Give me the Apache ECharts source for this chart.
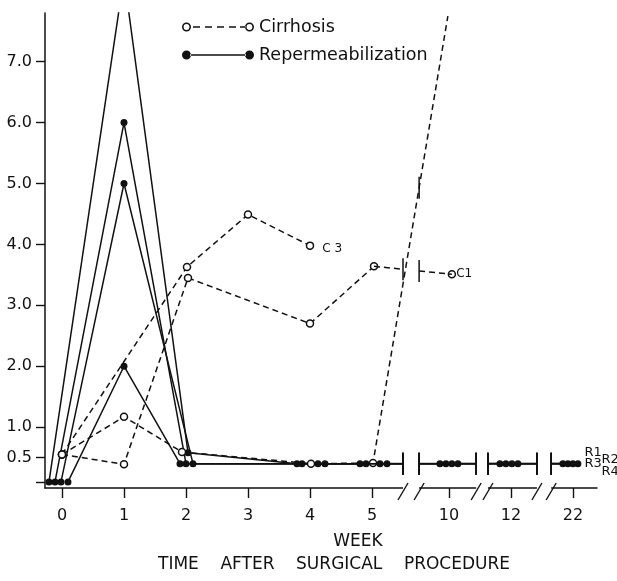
<!DOCTYPE html>
<html>
<head>
<meta charset="utf-8">
<script src="https://cdn.jsdelivr.net/npm/echarts@6/dist/echarts.min.js"></script>
<style>
  html, body { margin: 0; padding: 0; background: #fff; }
  #chart { width: 617px; height: 581px; }
</style>
</head>
<body>
<div id="chart"></div>
<script>
// ---------------- DATA ----------------
const weeks = [0, 1, 2, 3, 4, 5, 10, 12, 22];
const weekLabels = ['0', '1', '2', '3', '4', '5', '10', '12', '22'];

// Cirrhosis (open circles, dashed)
const c1Values = [0.55, 0.39, 3.45, null, 2.70, 3.64, 3.51, null, null];
const c2Values = [0.55, 1.17, 0.59, null, 0.40, 0.41, 7.75, null, null];
const c3Values = [0.55, null, 3.63, 4.49, 3.98, null, null, null, null];

// Repermeabilization (filled dots, solid)
const r1Values = [0.10, 8.40, 0.58, null, 0.40, 0.40, 0.40, 0.40, 0.40];
const r2Values = [0.10, 6.00, 0.40, null, 0.40, 0.40, 0.40, 0.40, 0.40];
const r3Values = [0.10, 5.00, 0.40, null, 0.40, 0.40, 0.40, 0.40, 0.40];
const r4Values = [0.10, 2.00, 0.40, null, 0.40, 0.40, 0.40, 0.40, 0.40];

const yTickValues = [0.1, 0.5, 1, 2, 3, 4, 5, 6, 7];
const yLabelValues = [0.5, 1, 2, 3, 4, 5, 6, 7];

// ---------------- LAYOUT (broken time axis) ----------------
const SLOT = [0, 1, 2, 3, 4, 5, 6.24, 7.24, 8.24];      // axis position of each week
const BREAKS = [[5.5, 5.76], [6.68, 6.87], [7.66, 7.89]];
const PX_PER_SLOT = 62;
const XMIN = -0.274, XMAX = 8.629;
// horizontal offsets (px) used in the original to separate overlapping symbols
const jitterPx = {
  C1: [0, 0, 2, 0, 0, 2, 3, 0, 0],
  C2: [0, 0, -4, 0, 1, 1, -1, 0, 0],
  C3: [0, 0, 1, 0, 0, 0, 0, 0, 0],
  R1: [-13, 0, 2, 0, -13, -12, -9, -11, -10],
  R2: [-7, 0, 0, 0, -8, -6, -3, -5, -5],
  R3: [-1, 0, 7, 0, 8, 8, 3, 1, 0],
  R4: [6, 0, -6, 0, 15, 15, 9, 7, 5]
};

const FONT = 'DejaVu Sans';
const INK = '#111';
const DASH = [6, 4];
const LW = 1.5;

const connectors = [];

function buildSeries(key, values, opts) {
  const pts = [];
  values.forEach((v, i) => {
    if (v !== null && v !== undefined) pts.push({ i, x: SLOT[i] + jitterPx[key][i] / PX_PER_SLOT, y: v });
  });
  const data = [];
  pts.forEach((p, k) => {
    if (k > 0) {
      const prev = pts[k - 1];
      const b = BREAKS.find(br => prev.x < br[0] && p.x > br[1]);
      if (b) {
        connectors.push([prev.x, prev.y, p.x, p.y, b[0], b[1], opts.dashed ? 1 : 0, opts.continuous ? 1 : 0]);
        if (!opts.continuous) data.push([(prev.x + p.x) / 2, '-']);
      }
    }
    const item = { value: [p.x, p.y] };
    if (k === pts.length - 1) {
      if (opts.label) {
        item.label = {
          show: true, formatter: opts.label, position: 'right', distance: 5,
          offset: opts.labelOffset, fontSize: opts.labelSize || 12, color: INK, fontFamily: FONT
        };
      }
      if (opts.hideEnd) { item.symbol = 'none'; item.symbolSize = 0; }
    }
    data.push(item);
  });
  const base = {
    type: 'line',
    data,
    showAllSymbol: true,
    symbol: 'circle',
    symbolSize: 7,
    silent: true,
    animation: false,
    emphasis: { disabled: true },
    connectNulls: false
  };
  if (opts.dashed) {
    return Object.assign(base, {
      name: 'Cirrhosis', z: 4,
      itemStyle: { color: '#fff', borderColor: INK, borderWidth: 1.5 },
      lineStyle: { color: INK, width: LW, type: DASH }
    });
  }
  return Object.assign(base, {
    name: 'Repermeabilization', z: 3,
    itemStyle: { color: INK, borderWidth: 0 },
    lineStyle: { color: INK, width: LW, type: 'solid' }
  });
}

const seriesList = [
  buildSeries('R1', r1Values, { label: 'R1', labelOffset: [13, -11], labelSize: 13 }),
  buildSeries('R2', r2Values, { label: 'R2', labelOffset: [25, -4], labelSize: 13 }),
  buildSeries('R3', r3Values, { label: 'R3', labelOffset: [3, 0], labelSize: 13 }),
  buildSeries('R4', r4Values, { label: 'R4', labelOffset: [15, 8], labelSize: 13 }),
  buildSeries('C1', c1Values, { dashed: true, label: 'C1', labelOffset: [-5, 0] }),
  buildSeries('C2', c2Values, { dashed: true, continuous: true, hideEnd: true }),
  buildSeries('C3', c3Values, { dashed: true, label: 'C 3', labelOffset: [3, 3] })
];

// line pieces that cross an axis break
seriesList.push({
  type: 'custom', name: 'breakLinks', silent: true, animation: false, z: 5,
  data: connectors,
  encode: { x: [0, 2, 4, 5], y: [1, 3] },
  renderItem: function (params, api) {
    const p1 = api.coord([api.value(0), api.value(1)]);
    const p2 = api.coord([api.value(2), api.value(3)]);
    const xl = api.coord([api.value(4), 0])[0];
    const xr = api.coord([api.value(5), 0])[0];
    const dashed = api.value(6) === 1;
    const continuous = api.value(7) === 1;
    const yAt = x => p1[1] + (p2[1] - p1[1]) * (x - p1[0]) / (p2[0] - p1[0]);
    const lineStyle = { stroke: INK, lineWidth: LW, fill: null, lineDash: dashed ? DASH : null };
    const barStyle = { stroke: INK, lineWidth: 1.5, fill: null };
    const h = 11;
    const children = [];
    const yl = yAt(xl), yr = yAt(xr);
    if (!continuous) {
      children.push({ type: 'line', shape: { x1: p1[0], y1: p1[1], x2: xl, y2: yl }, style: lineStyle });
      children.push({ type: 'line', shape: { x1: xr, y1: yr, x2: p2[0], y2: p2[1] }, style: lineStyle });
      children.push({ type: 'line', shape: { x1: xl, y1: yl - h, x2: xl, y2: yl + h }, style: barStyle });
    }
    children.push({ type: 'line', shape: { x1: xr, y1: yr - h, x2: xr, y2: yr + h }, style: barStyle });
    return { type: 'group', children };
  }
});

// axis break marks on the time axis
seriesList.push({
  type: 'custom', name: 'axisBreaks', silent: true, animation: false, z: 6,
  data: BREAKS,
  encode: { x: [0, 1], y: [] },
  clip: false,
  renderItem: function (params, api) {
    const xl = api.coord([api.value(0), 0])[0];
    const xr = api.coord([api.value(1), 0])[0];
    const y0 = api.coord([0, 0])[1];
    const s = { stroke: INK, lineWidth: 1.4, fill: null };
    return {
      type: 'group',
      children: [
        { type: 'rect', shape: { x: xl, y: y0 - 3, width: xr - xl, height: 6 }, style: { fill: '#fff', stroke: null } },
        { type: 'line', shape: { x1: xl - 5, y1: y0 + 12, x2: xl + 5, y2: y0 - 5 }, style: s },
        { type: 'line', shape: { x1: xr - 5, y1: y0 + 12, x2: xr + 5, y2: y0 - 5 }, style: s }
      ]
    };
  }
});

// legend icons (72 x 9): symbol - line - symbol
const ringIcon = 'path://M0,4.5 A4.5,4.5 0 0 0 9,4.5 A4.5,4.5 0 0 0 0,4.5 Z M1.6,4.5 A2.9,2.9 0 0 1 7.4,4.5 A2.9,2.9 0 0 1 1.6,4.5 Z' +
  ' M11,3.75 L18,3.75 L18,5.25 L11,5.25 Z M23,3.75 L30,3.75 L30,5.25 L23,5.25 Z M35,3.75 L42,3.75 L42,5.25 L35,5.25 Z' +
  ' M47,3.75 L54,3.75 L54,5.25 L47,5.25 Z M58,3.75 L63.5,3.75 L63.5,5.25 L58,5.25 Z' +
  ' M63,4.5 A4.5,4.5 0 0 0 72,4.5 A4.5,4.5 0 0 0 63,4.5 Z M64.6,4.5 A2.9,2.9 0 0 1 70.4,4.5 A2.9,2.9 0 0 1 64.6,4.5 Z';
const dotIcon = 'path://M0,4.5 A4.5,4.5 0 0 0 9,4.5 A4.5,4.5 0 0 0 0,4.5 Z M8,3.75 L64,3.75 L64,5.25 L8,5.25 Z' +
  ' M63,4.5 A4.5,4.5 0 0 0 72,4.5 A4.5,4.5 0 0 0 63,4.5 Z';

const chart = echarts.init(document.getElementById('chart'), null, { renderer: 'canvas' });
chart.setOption({
  animation: false,
  backgroundColor: '#fff',
  textStyle: { fontFamily: FONT, color: INK },
  grid: { left: 45, right: 20, top: 13, bottom: 93, containLabel: false },
  title: {
    text: 'TIME    AFTER    SURGICAL    PROCEDURE',
    left: 158, top: 556, padding: 0,
    textStyle: { fontSize: 17, fontWeight: 'normal', color: INK, fontFamily: FONT }
  },
  legend: {
    orient: 'vertical', left: 177, top: 12,
    itemWidth: 72, itemHeight: 9, itemGap: 8,
    selectedMode: false,
    textStyle: { fontSize: 17.5, lineHeight: 20, color: INK, fontFamily: FONT },
    data: [
      { name: 'Cirrhosis', icon: ringIcon, itemStyle: { color: INK, borderWidth: 0 } },
      { name: 'Repermeabilization', icon: dotIcon, itemStyle: { color: INK, borderWidth: 0 } }
    ]
  },
  xAxis: {
    type: 'value', min: XMIN, max: XMAX,
    axisLine: { show: true, onZero: false, lineStyle: { color: INK, width: 1.5 } },
    axisTick: { show: true, customValues: SLOT, length: 10, lineStyle: { color: INK, width: 1.4 } },
    axisLabel: {
      customValues: SLOT, margin: 20, fontSize: 16, color: INK, fontFamily: FONT,
      formatter: function (v) {
        const i = SLOT.findIndex(s => Math.abs(s - v) < 1e-6);
        return i >= 0 ? weekLabels[i] : '';
      }
    },
    splitLine: { show: false },
    name: 'WEEK', nameLocation: 'middle', nameGap: 45,
    nameTextStyle: { fontSize: 17, color: INK, fontFamily: FONT, padding: [0, 0, 0, 74] }
  },
  yAxis: {
    type: 'value', min: 0, max: 7.8,
    axisLine: { show: true, onZero: false, lineStyle: { color: INK, width: 1.5 } },
    axisTick: { show: true, customValues: yTickValues, length: 9, lineStyle: { color: INK, width: 1.4 } },
    axisLabel: {
      customValues: yLabelValues, margin: 13, fontSize: 16, color: INK, fontFamily: FONT,
      formatter: v => Number(v).toFixed(1)
    },
    splitLine: { show: false }
  },
  series: seriesList
});
</script>
</body>
</html>
